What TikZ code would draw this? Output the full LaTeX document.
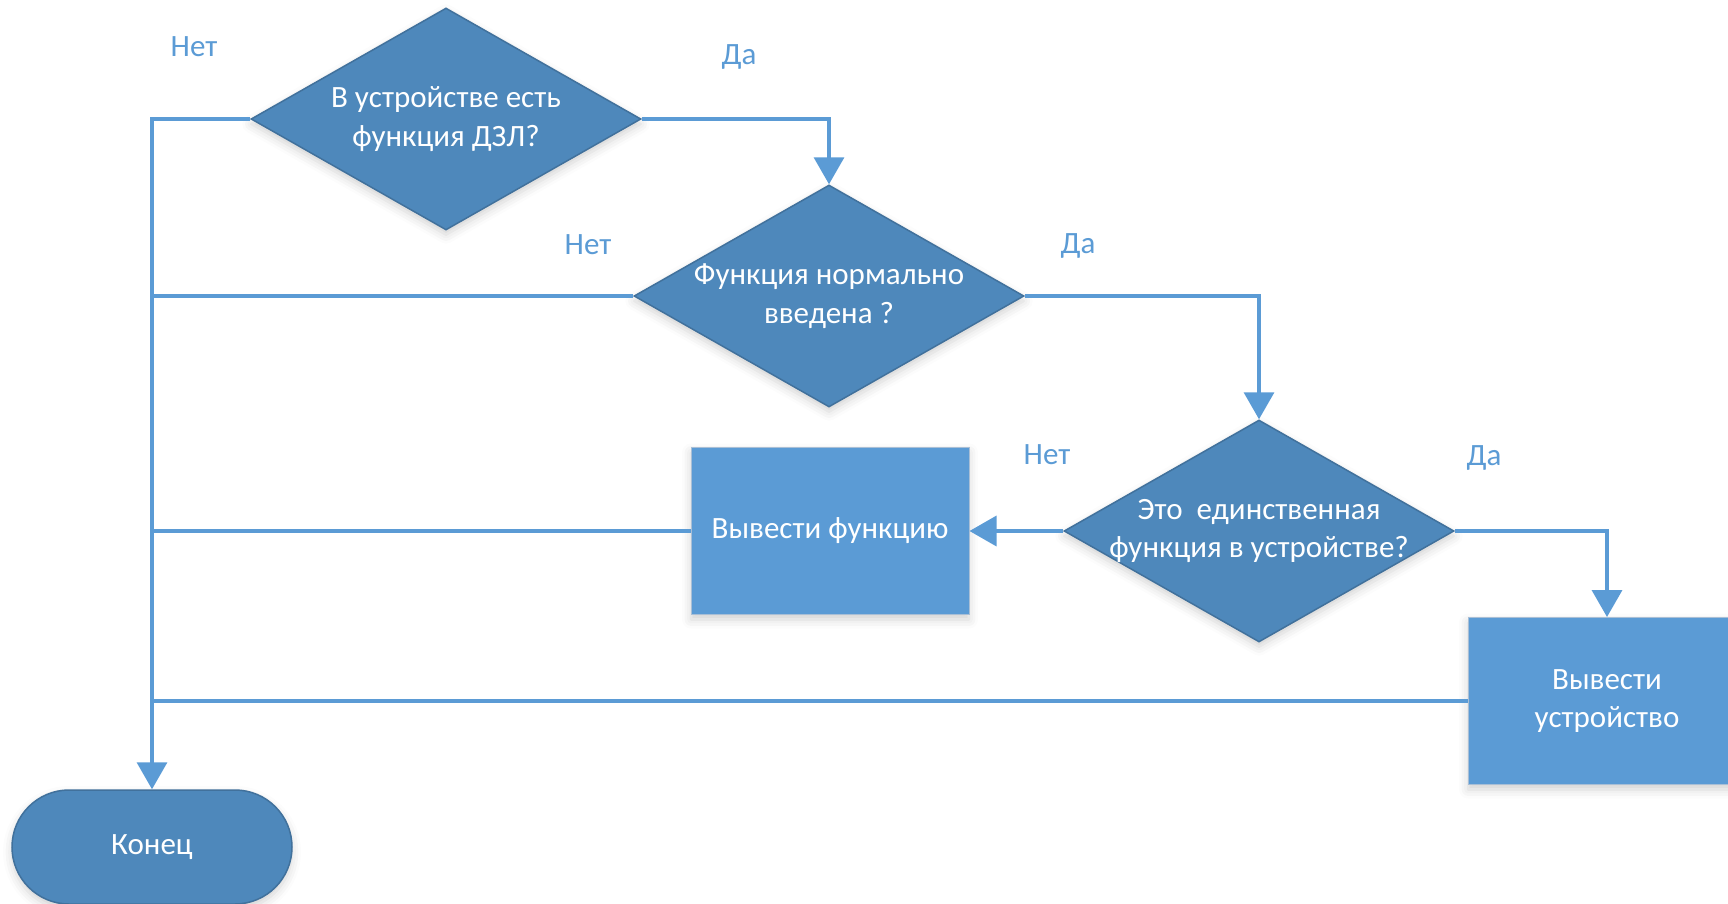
\documentclass[tikz,border=0pt]{standalone}
\usepackage{fontspec}
\setmainfont{Carlito}
\usetikzlibrary{shapes.geometric,shapes.misc,arrows.meta,shadows.blur}

\definecolor{decfill}{HTML}{4E88BB}
\definecolor{decedge}{HTML}{41719C}
\definecolor{boxfill}{HTML}{5B9BD5}
\definecolor{boxedge}{HTML}{A9BFD6}
\definecolor{flow}{HTML}{5B9BD5}

% a text line that does not widen its shape
\newcommand{\freeline}[1]{\makebox[0pt][c]{#1}}

\tikzset{
  textfont/.style={font=\fontsize{31}{38.5}\selectfont},
  softshadow/.style={blur shadow={shadow xshift=0pt, shadow yshift=-5pt,
      shadow blur radius=9pt, shadow opacity=18}},
  decision/.style={diamond, aspect=1.757, minimum width=390pt, minimum height=222pt,
      inner sep=0pt, fill=decfill, draw=decedge, line width=1.5pt, text=white,
      align=center, textfont, softshadow},
  action/.style={rectangle, minimum width=278pt, minimum height=167pt, inner sep=0pt,
      fill=boxfill, draw=boxedge, line width=1pt, text=white, align=center,
      textfont, softshadow},
  terminal/.style={rounded rectangle, minimum width=280pt, minimum height=114pt,
      inner sep=0pt, fill=decfill, draw=decedge, line width=1.5pt, text=white,
      textfont, softshadow},
  flowline/.style={draw=flow, line width=3.5pt},
  flowarrow/.style={flowline, -{Triangle[length=27pt, width=30pt]}},
  answer/.style={text=flow, textfont}
}

\begin{document}
\begin{tikzpicture}[x=1pt, y=-1pt]
  \useasboundingbox (0,0) rectangle (1728,903);

  % decisions and actions
  \node[decision] (d1) at (446,119) {В устройстве есть\\функция ДЗЛ?};
  \node[decision] (d2) at (829,296) {Функция нормально\\введена ?};
  \node[decision] (d3) at (1259,531)
    {\freeline{Это\ \ единственная}\\\freeline{функция в устройстве?}};
  \node[action] (r1) at (830,531) {Вывести функцию};
  \node[action] (r2) at (1607,701) {Вывести\\устройство};
  \node[terminal] (end) at (152,847) {Конец};

  % yes branches
  \draw[flowarrow] (d1.east) -| (d2.north);
  \draw[flowarrow] (d2.east) -| (d3.north);
  \draw[flowarrow] (d3.east) -| (r2.north);

  % no branch to the function box
  \draw[flowarrow] (d3.west) -- (r1.east);

  % common return line to the end
  \draw[flowarrow] (d1.west) -- (d1.west -| end.north) -- (end.north);
  \draw[flowline] (d2.west) -- (d2.west -| end.north);
  \draw[flowline] (r1.west) -- (r1.west -| end.north);
  \draw[flowline] (r2.west) -- (r2.west -| end.north);

  % branch labels
  \node[answer] (n1) at (194,47) {Нет};
  \node[answer] (y1) at (739,57) {Да};
  \node[answer] (n2) at (588,245) {Нет};
  \node[answer] (y2) at (1078,246) {Да};
  \node[answer] (n3) at (1047,455) {Нет};
  \node[answer] (y3) at (1484,458) {Да};
\end{tikzpicture}
\end{document}
